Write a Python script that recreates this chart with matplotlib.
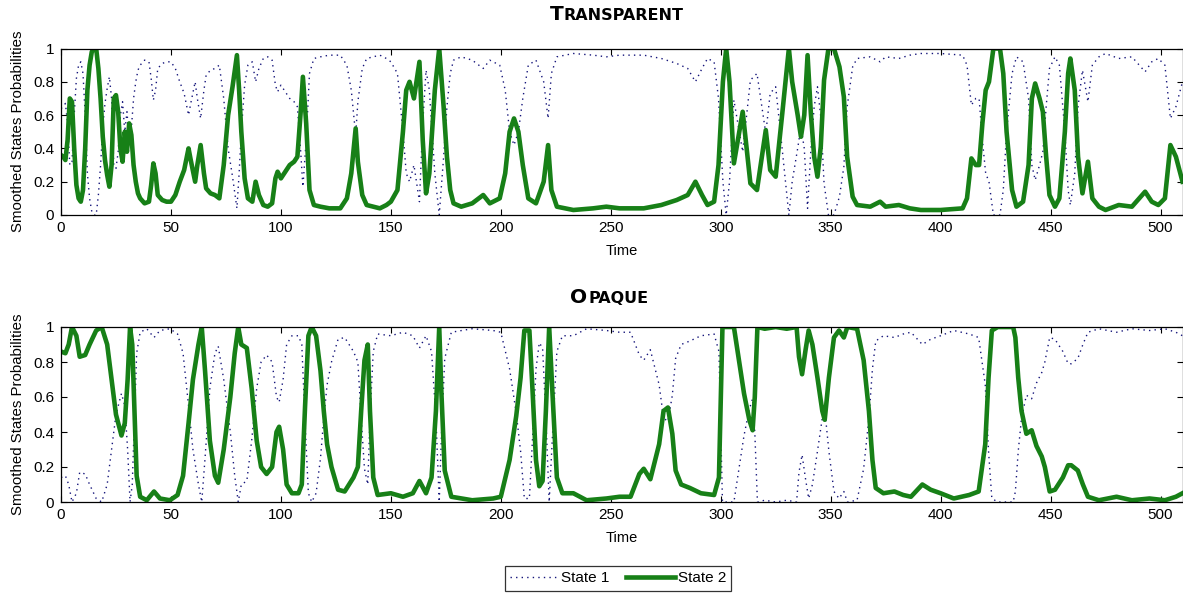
import matplotlib
matplotlib.use("Agg")
import matplotlib.pyplot as plt

# ---------------- data ----------------
top_time = [0, 1, 2, 3, 4, 5, 6, 7, 8, 9,
            10, 11, 12, 13, 14, 15, 16, 17, 18, 19,
            20, 21, 22, 23, 24, 25, 26, 27, 28, 29,
            30, 31, 32, 33, 34, 35, 36, 38, 40, 41,
            42, 43, 44, 46, 48, 50, 52, 54, 56, 58,
            59, 61, 62, 63.5, 65, 66, 68, 70, 72, 74,
            76, 78, 80, 81, 82, 83.5, 85, 87, 88.5, 90,
            92, 94, 96, 97.5, 98.5, 100, 102, 104, 106, 107.5,
            109, 110, 111.5, 113, 115, 118, 122, 127, 130, 132,
            134, 135, 137, 139, 142, 145, 148, 150, 153, 155.5,
            157, 158.5, 160.5, 163, 164.5, 166, 167.5, 170, 172, 174,
            175.5, 177, 178.5, 182, 187, 192, 195, 199.5, 202, 204,
            206, 208, 210, 212.5, 216, 219.5, 221.5, 223, 225.5, 233,
            242, 248, 254, 265, 273, 280, 285, 288.5, 291.5, 294,
            297, 299, 301, 302.5, 304, 306, 310, 313.5, 316.5, 320.5,
            322.5, 325, 328, 331, 332.5, 335, 336.5, 338, 339.5, 341,
            342.5, 344, 345.5, 347, 349, 351.5, 354, 356, 357.5, 360,
            362, 368, 372.5, 375, 381, 386, 391, 400, 410, 412,
            414, 416, 417.5, 419, 420.5, 422, 424, 427, 428.5, 430,
            432.5, 434.5, 437.5, 440, 441.5, 443, 445, 446.5, 448, 449.5,
            452, 454, 456.5, 458, 459, 461, 462.5, 464.5, 467, 469,
            472, 475, 481, 487, 493, 496, 499, 502, 504.5, 507,
            510]
top_state2 = [.36, .35, .33, .45, .70, .68, .40, .18, .10, .08,
              .15, .40, .75, .90, .98, 1.0, 1.0, .88, .70, .47,
              .33, .24, .17, .30, .70, .72, .62, .40, .32, .50,
              .38, .55, .48, .30, .20, .13, .10, .07, .08, .18,
              .31, .25, .12, .09, .08, .08, .12, .20, .27, .40,
              .33, .20, .30, .42, .25, .16, .13, .12, .10, .30,
              .60, .77, .96, .75, .50, .22, .10, .08, .20, .12,
              .06, .05, .07, .22, .26, .22, .26, .30, .32, .35,
              .62, .83, .55, .15, .06, .05, .04, .04, .10, .25,
              .52, .32, .12, .06, .05, .04, .06, .08, .15, .50,
              .75, .80, .70, .92, .45, .13, .25, .75, 1.0, .65,
              .35, .15, .07, .05, .07, .12, .07, .10, .25, .50,
              .58, .50, .30, .10, .07, .20, .42, .15, .05, .03,
              .04, .05, .04, .04, .06, .09, .12, .20, .12, .06,
              .08, .30, .80, 1.0, .80, .31, .62, .19, .15, .51,
              .27, .23, .61, 1.0, .80, .60, .47, .60, .96, .61,
              .35, .23, .41, .81, 1.0, 1.0, .89, .71, .35, .11,
              .06, .05, .08, .05, .06, .04, .03, .03, .04, .10,
              .34, .30, .30, .55, .75, .80, 1.0, 1.0, .85, .50,
              .15, .05, .08, .30, .70, .79, .70, .62, .35, .12,
              .05, .10, .50, .85, .94, .75, .35, .13, .32, .10,
              .05, .03, .06, .05, .14, .08, .06, .10, .42, .35,
              .20]
top_state1 = [.64, .65, .67, .55, .30, .32, .60, .82, .90, .92,
              .85, .60, .25, .10, .02, 0, 0, .12, .30, .53,
              .67, .76, .83, .70, .30, .28, .38, .60, .68, .50,
              .62, .45, .52, .70, .80, .87, .90, .93, .92, .82,
              .69, .75, .88, .91, .92, .92, .88, .80, .73, .60,
              .67, .80, .70, .58, .75, .84, .87, .88, .90, .70,
              .40, .23, .04, .25, .50, .78, .90, .92, .80, .88,
              .94, .95, .93, .78, .74, .78, .74, .70, .68, .65,
              .38, .17, .45, .85, .94, .95, .96, .96, .90, .75,
              .48, .68, .88, .94, .95, .96, .94, .92, .85, .50,
              .25, .20, .30, .08, .55, .87, .75, .25, 0, .35,
              .65, .85, .93, .95, .93, .88, .93, .90, .75, .50,
              .42, .50, .70, .90, .93, .80, .58, .85, .95, .97,
              .96, .95, .96, .96, .94, .91, .88, .80, .88, .94,
              .92, .70, .20, 0, .20, .69, .38, .81, .85, .49,
              .73, .77, .39, 0, .20, .40, .53, .40, .04, .39,
              .65, .77, .59, .19, 0, 0, .11, .29, .65, .89,
              .94, .95, .92, .95, .94, .96, .97, .97, .96, .90,
              .66, .70, .70, .45, .25, .20, 0, 0, .15, .50,
              .85, .95, .92, .70, .30, .21, .30, .38, .65, .88,
              .95, .90, .50, .15, .06, .25, .65, .87, .68, .90,
              .95, .97, .94, .95, .86, .92, .94, .90, .58, .65,
              .80]

bot_time = [0, 2, 3.5, 5, 7, 8.5, 11, 13, 16, 18.5,
            21, 23, 25, 27.5, 29, 30.3, 31.4, 32.4, 33.2, 34.4,
            36, 39, 42.3, 45, 49.5, 53, 55.5, 58, 60, 62.5,
            64, 65.5, 67.7, 70, 71.5, 74, 77, 79, 80.6, 82,
            84.5, 86.7, 89, 91, 93.5, 96, 98, 99.2, 101, 102.6,
            105, 108, 109.5, 111, 112.5, 114, 116, 118, 119.5, 121,
            123, 126, 129, 133, 135, 136.5, 138, 139.5, 140.5, 142,
            144, 150, 155.5, 160, 163, 166, 168.5, 170.5, 172, 173,
            174.5, 177.5, 187, 196.5, 200, 204, 207, 209, 210.7, 213,
            214.5, 216, 217.5, 219, 220.5, 222, 223.5, 225.5, 228, 233,
            239, 248, 254, 259, 263, 265, 268, 272, 274, 276,
            278, 279.5, 282, 286, 291, 297, 299.2, 300.8, 306, 308.3,
            310.6, 313, 314.5, 315.5, 316.7, 320, 325, 330, 334.5, 335.6,
            337, 338.6, 340, 341.7, 344, 346.2, 347.3, 349.2, 351.5, 353.8,
            356, 357.6, 362, 365, 367.4, 369, 370.5, 374, 379, 383,
            386.5, 391.7, 395.5, 400, 406, 413, 417.3, 420.3, 421.8, 423.3,
            426, 430, 433, 434, 435.3, 436.8, 439, 441.4, 443.6, 446,
            447.4, 449.6, 452, 455.6, 458, 459.4, 462.4, 464.7, 467, 472,
            480, 487, 495, 502, 507, 510]
bot_state2 = [.86, .85, .90, 1.0, .95, .83, .84, .90, .98, 1.0,
              .90, .70, .50, .38, .45, .70, 1.0, .90, .60, .15,
              .03, .01, .06, .02, .01, .04, .15, .45, .70, .90,
              1.0, .75, .35, .15, .11, .30, .60, .85, 1.0, .90,
              .88, .65, .35, .20, .16, .20, .40, .43, .30, .10,
              .05, .05, .10, .55, .95, 1.0, .95, .75, .52, .33,
              .20, .07, .06, .14, .20, .52, .81, .90, .52, .14,
              .04, .05, .03, .05, .12, .05, .14, .52, 1.0, .62,
              .18, .03, .01, .02, .03, .24, .49, .71, .98, .98,
              .62, .24, .09, .12, .52, 1.0, .62, .14, .05, .05,
              .01, .02, .03, .03, .16, .19, .13, .33, .52, .54,
              .39, .18, .10, .08, .05, .04, .14, 1.0, 1.0, .81,
              .62, .47, .41, .60, 1.0, .99, 1.0, .99, 1.0, .83,
              .73, .87, .98, .90, .71, .52, .47, .71, .94, .98,
              .94, 1.0, .99, .81, .52, .24, .08, .05, .06, .04,
              .03, .10, .07, .05, .02, .04, .06, .33, .71, .98,
              1.0, 1.0, 1.0, .94, .71, .52, .39, .41, .32, .26,
              .20, .06, .07, .14, .21, .21, .18, .10, .03, .01,
              .03, .01, .02, .01, .03, .05]
bot_state1 = [.14, .15, .10, 0, .05, .17, .16, .10, .02, 0,
              .10, .30, .50, .62, .55, .30, 0, .10, .40, .85,
              .97, .99, .94, .98, .99, .96, .85, .55, .30, .10,
              0, .25, .65, .85, .89, .70, .40, .15, 0, .10,
              .12, .35, .65, .80, .84, .80, .60, .57, .70, .90,
              .95, .95, .90, .45, .05, 0, .05, .25, .48, .67,
              .80, .93, .94, .86, .80, .48, .19, .10, .48, .86,
              .96, .95, .97, .95, .88, .95, .86, .48, 0, .38,
              .82, .97, .99, .98, .97, .76, .51, .29, .02, .02,
              .38, .76, .91, .88, .48, 0, .38, .86, .95, .95,
              .99, .98, .97, .97, .84, .81, .87, .67, .48, .46,
              .61, .82, .90, .92, .95, .96, .86, 0, 0, .19,
              .38, .53, .59, .40, 0, .01, 0, .01, 0, .17,
              .27, .13, .02, .10, .29, .48, .53, .29, .06, .02,
              .06, 0, .01, .19, .48, .76, .92, .95, .94, .96,
              .97, .90, .93, .95, .98, .96, .94, .67, .29, .02,
              0, 0, 0, .06, .29, .48, .61, .59, .68, .74,
              .80, .94, .93, .86, .79, .79, .82, .90, .97, .99,
              .97, .99, .98, .99, .97, .95]

x_ticks = [0, 50, 100, 150, 200, 250, 300, 350, 400, 450, 500]
y_ticks = [0, 0.2, 0.4, 0.6, 0.8, 1.0]
y_ticklabels = ["0", "0.2", "0.4", "0.6", "0.8", "1"]
panel_titles = [("T", "RANSPARENT"), ("O", "PAQUE")]
series_labels = ["State 1", "State 2"]
x_label = "Time"
y_label = "Smoothed States Probabilities"

# ---------------- style ----------------
plt.rcParams["font.family"] = ["Liberation Sans", "DejaVu Sans"]

GREEN = "#178017"
BLUE = "#14147a"
W, H = 1183, 597
fig = plt.figure(figsize=(W / 100, H / 100), dpi=100)
fig.patch.set_facecolor("white")

ax_left = 61 / W
ax_width = (1182.5 - 61) / W
axes_px = [(48.5, 215), (327, 502)]
datasets = [(top_time, top_state1, top_state2), (bot_time, bot_state1, bot_state2)]
axes = []
for (ytop, ybot), (t, s1, s2) in zip(axes_px, datasets):
    ax = fig.add_axes([ax_left, 1 - ybot / H, ax_width, (ybot - ytop) / H])
    l1, = ax.plot(t, s1, color=BLUE, lw=1.0, linestyle=(0, (1, 3.0)), label=series_labels[0])
    l2, = ax.plot(t, s2, color=GREEN, lw=3.3, label=series_labels[1])
    ax.set_xlim(0, 510)
    ax.set_ylim(0, 1)
    ax.set_xticks(x_ticks)
    ax.set_yticks(y_ticks)
    ax.set_yticklabels(y_ticklabels)
    ax.tick_params(direction="in", top=True, right=True, length=4, width=0.8,
                   labelsize=11, pad=4, colors="black")
    ax.tick_params(axis="y", pad=5)
    for sp in ax.spines.values():
        sp.set_linewidth(0.9)
        sp.set_color("black")
    ax.set_xlabel(x_label, fontsize=10.5, labelpad=7)
    ax.set_ylabel(y_label, fontsize=10.8, labelpad=6)
    axes.append(ax)

# small-caps style titles
title_pos = [(616.5, 20.5), (609, 303)]
fig.canvas.draw()
renderer = fig.canvas.get_renderer()
for (first, rest), (xc, yb) in zip(panel_titles, title_pos):
    t1 = fig.text(0, 1 - yb / H, first, fontsize=14.5, fontweight="bold",
                  family="DejaVu Sans", va="baseline", ha="left")
    t2 = fig.text(0, 1 - yb / H, rest, fontsize=11.5, fontweight="bold",
                  family="DejaVu Sans", va="baseline", ha="left")
    w1 = t1.get_window_extent(renderer).width
    w2 = t2.get_window_extent(renderer).width
    x0 = xc - (w1 + w2) / 2
    t1.set_x(x0 / W)
    t2.set_x((x0 + w1 + 0.5) / W)

leg = fig.legend(handles=[l1, l2], labels=series_labels, loc="center",
                 bbox_to_anchor=(618 / W, 1 - 578.5 / H), ncol=2,
                 fontsize=11, frameon=True, fancybox=False, edgecolor="black",
                 handlelength=3.2, handletextpad=0.15, columnspacing=1.1,
                 borderpad=0.35, borderaxespad=0)
leg.get_frame().set_linewidth(0.9)

fig.savefig("out.png", dpi=100, facecolor="white")
